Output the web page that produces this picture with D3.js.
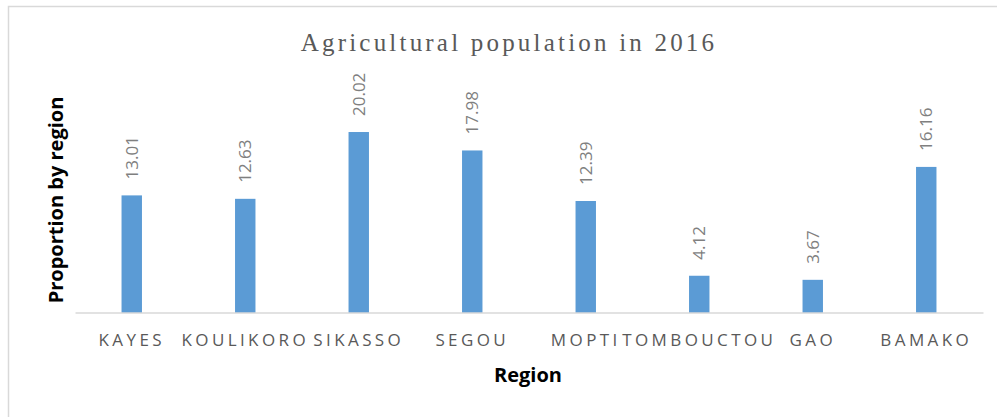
<!DOCTYPE html>
<html>
<head>
<meta charset="utf-8">
<script src="https://cdn.jsdelivr.net/npm/d3@7"></script>
<style>
  body { margin: 0; background: #fff; }
</style>
</head>
<body>
<div class="canvas"></div>
<script>
const regions = ['KAYES', 'KOULIKORO', 'SIKASSO', 'SEGOU', 'MOPTI', 'TOMBOUCTOU', 'GAO', 'BAMAKO']
const shares = [13.01, 12.63, 20.02, 17.98, 12.39, 4.12, 3.67, 16.16]
const yDomain = [0, 25]

const dims = { width: 997, height: 417 }
const plot = { left: 75, right: 983, top: 87, bottom: 313 }

const svg = d3.select('.canvas')
    .append('svg')
    .attr('width', dims.width)
    .attr('height', dims.height)

// chart frame (only left + top edges show in the crop)
svg.append('rect')
    .attr('x', 8.5).attr('y', 6.5)
    .attr('width', 1000).attr('height', 420)
    .attr('fill', '#fff')
    .attr('stroke', '#d9d9d9')
    .attr('stroke-width', 1.5)

const x = d3.scaleBand()
    .domain(regions)
    .range([plot.left, plot.right])
    .paddingInner(0.82)
    .paddingOuter(0.41)

const y = d3.scaleLinear()
    .domain(yDomain)
    .range([plot.bottom, plot.top])

// title
svg.append('text')
    .attr('x', 509)
    .attr('y', 51)
    .attr('text-anchor', 'middle')
    .attr('font-family', '"Liberation Serif", "Times New Roman", serif')
    .attr('font-size', 25)
    .attr('letter-spacing', 3.2)
    .attr('fill', '#595959')
    .text('Agricultural population in 2016')

// bars
svg.append('g')
    .selectAll('rect')
    .data(shares)
    .enter()
    .append('rect')
        .attr('x', (d, i) => x(regions[i]))
        .attr('y', d => y(d))
        .attr('width', x.bandwidth())
        .attr('height', d => y(0) - y(d))
        .attr('fill', '#5b9bd5')

// value labels, rotated
svg.append('g')
    .selectAll('text')
    .data(shares)
    .enter()
    .append('text')
        .attr('transform', (d, i) => `translate(${x(regions[i]) + x.bandwidth() / 2 + 6}, ${y(d) - 16}) rotate(-90)`)
        .attr('font-family', '"Open Sans", "Liberation Sans", sans-serif')
        .attr('font-size', 17)
        .attr('fill', '#7f7f7f')
        .text(d => d.toFixed(2))

// x axis
const xAxis = d3.axisBottom(x).tickSize(0).tickPadding(0)
const gx = svg.append('g')
    .attr('transform', `translate(0, ${plot.bottom - 0.5})`)
    .call(xAxis)

gx.select('.domain')
    .attr('stroke', '#d9d9d9')
    .attr('stroke-width', 1.5)

gx.selectAll('.tick text')
    .attr('y', 33)
    .attr('dy', 0)
    .attr('font-family', '"Open Sans", "Liberation Sans", sans-serif')
    .attr('font-size', 17)
    .attr('letter-spacing', 3.4)
    .attr('fill', '#595959')

// axis titles
svg.append('text')
    .attr('x', 528)
    .attr('y', 382)
    .attr('text-anchor', 'middle')
    .attr('font-family', '"Open Sans", "Liberation Sans", sans-serif')
    .attr('font-weight', 'bold')
    .attr('font-size', 20)
    .attr('fill', '#000')
    .text('Region')

svg.append('text')
    .attr('transform', 'translate(63, 200) rotate(-90)')
    .attr('text-anchor', 'middle')
    .attr('font-family', '"Open Sans", "Liberation Sans", sans-serif')
    .attr('font-weight', 'bold')
    .attr('font-size', 20)
    .attr('fill', '#000')
    .text('Proportion by region')
</script>
</body>
</html>
